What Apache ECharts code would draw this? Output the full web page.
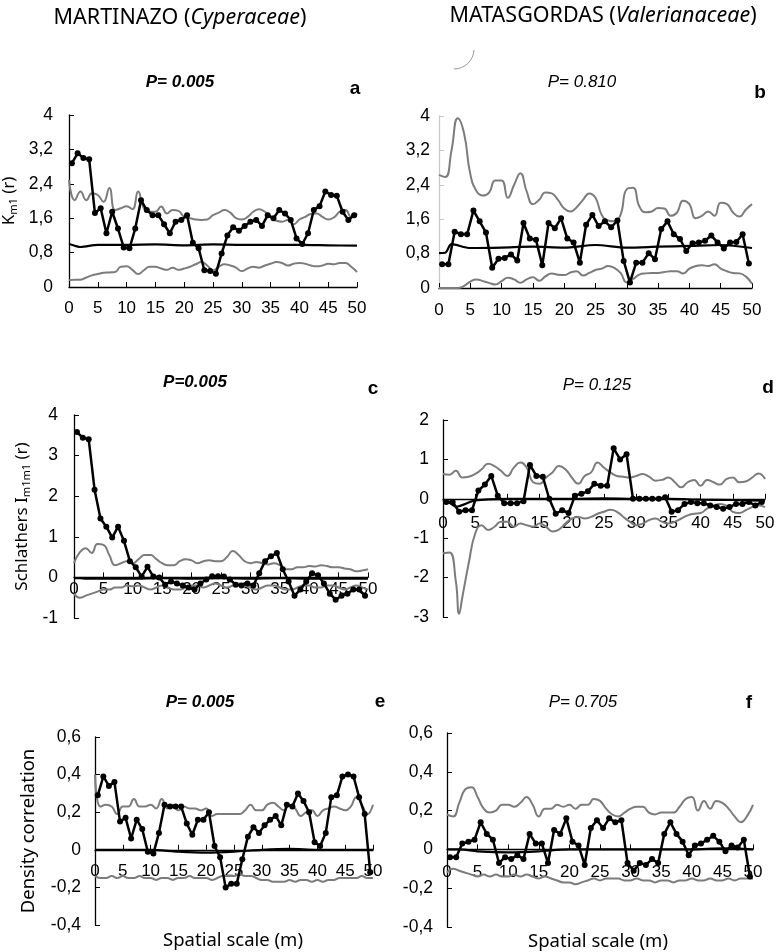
<!DOCTYPE html>
<html>
<head>
<meta charset="utf-8">
<script src="https://cdn.jsdelivr.net/npm/echarts@6/dist/echarts.min.js"></script>
<style>
  html, body { margin: 0; padding: 0; background: #fff; }
  #chart { width: 779px; height: 952px; }
</style>
</head>
<body>
<div id="chart"></div>
<script>
// distance r (m) of the observed points and of the envelope curves
var rDots = [0.5, 1.5, 2.5, 3.5, 4.5, 5.5, 6.5, 7.5, 8.5, 9.5, 10.5, 11.5, 12.5, 13.5, 14.5, 15.5, 16.5, 17.5, 18.5, 19.5,
    20.5, 21.5, 22.5, 23.5, 24.5, 25.5, 26.5, 27.5, 28.5, 29.5, 30.5, 31.5, 32.5, 33.5, 34.5, 35.5, 36.5, 37.5, 38.5, 39.5,
    40.5, 41.5, 42.5, 43.5, 44.5, 45.5, 46.5, 47.5, 48.5, 49.5];
var rGrid = [0, 1, 2, 3, 4, 5, 6, 7, 8, 9, 10, 11, 12, 13, 14, 15, 16, 17, 18, 19, 20, 21, 22, 23, 24, 25,
    26, 27, 28, 29, 30, 31, 32, 33, 34, 35, 36, 37, 38, 39, 40, 41, 42, 43, 44, 45, 46, 47, 48, 49, 50];
var rGridD = [0, 1, 2, 2.5, 3, 4, 5, 6, 7, 8, 9, 10, 11, 12, 13, 14, 15, 16, 17, 18, 19, 20, 21, 22, 23, 24, 25,
    26, 27, 28, 29, 30, 31, 32, 33, 34, 35, 36, 37, 38, 39, 40, 41, 42, 43, 44, 45, 46, 47, 48, 49, 50];
var rMean = [0, 1, 2, 5, 10, 15, 20, 25, 30, 35, 40, 45, 50];

// a - Martinazo, K_m1(r)
var aObs = [2.88, 3.11, 3.0, 2.97, 1.72, 1.83, 1.25, 1.75, 1.36, 0.92, 0.9, 1.36, 2.02, 1.79, 1.67, 1.67, 1.46, 1.25, 1.52, 1.56,
    1.67, 1.03, 0.9, 0.39, 0.37, 0.31, 0.78, 1.2, 1.39, 1.31, 1.42, 1.52, 1.56, 1.42, 1.67, 1.6, 1.79, 1.71, 1.56, 1.13,
    1.0, 1.25, 1.79, 1.88, 2.22, 2.14, 2.12, 1.75, 1.56, 1.67];
var aUpper = [2.49, 2.02, 2.22, 2.02, 2.18, 2.14, 1.98, 2.3, 1.79, 1.83, 1.88, 1.81, 2.22, 1.83, 1.75, 1.75, 1.87, 1.71, 1.79, 1.77,
    1.63, 1.6, 1.57, 1.56, 1.57, 1.67, 1.73, 1.79, 1.73, 1.6, 1.57, 1.63, 1.75, 1.81, 1.75, 1.63, 1.54, 1.52, 1.56, 1.46,
    1.57, 1.63, 1.7, 1.71, 1.63, 1.57, 1.62, 1.75, 1.79, 1.63, 1.71];
var aLower = [0.16, 0.17, 0.17, 0.22, 0.27, 0.3, 0.33, 0.34, 0.35, 0.47, 0.48, 0.4, 0.3, 0.39, 0.47, 0.47, 0.43, 0.4, 0.45, 0.4,
    0.43, 0.47, 0.53, 0.58, 0.5, 0.39, 0.47, 0.53, 0.5, 0.45, 0.37, 0.43, 0.47, 0.45, 0.5, 0.54, 0.58, 0.56, 0.5, 0.54,
    0.56, 0.54, 0.5, 0.48, 0.5, 0.54, 0.53, 0.56, 0.56, 0.47, 0.35];
var aMean = [1.0, 0.96, 0.93, 0.98, 0.98, 0.99, 0.97, 0.99, 0.98, 0.98, 0.98, 0.97, 0.96];

// b - Matasgordas, K_m1(r)
var bObs = [0.55, 0.55, 1.31, 1.25, 1.25, 1.8, 1.55, 1.29, 0.47, 0.68, 0.7, 0.78, 0.64, 1.51, 1.15, 1.12, 0.53, 1.51, 1.39, 1.62,
    1.15, 1.06, 0.59, 1.47, 1.7, 1.44, 1.55, 1.41, 1.57, 0.63, 0.13, 0.59, 0.59, 0.81, 0.67, 1.37, 1.55, 1.25, 1.14, 0.86,
    1.04, 1.06, 1.1, 1.22, 1.06, 0.92, 1.06, 1.07, 1.25, 0.57];
var bUpper = [2.63, 2.58, 3.2, 3.95, 3.6, 2.65, 2.25, 2.15, 2.22, 2.5, 2.5, 2.1, 2.4, 2.67, 2.25, 1.95, 2.05, 2.22, 2.2, 2.05,
    1.85, 1.78, 1.88, 2.05, 2.2, 2.1, 1.7, 1.57, 1.55, 1.7, 2.3, 2.33, 1.9, 1.76, 1.78, 1.86, 1.85, 1.68, 1.75, 2.03,
    1.95, 1.62, 1.68, 1.78, 1.68, 1.98, 1.95, 1.75, 1.66, 1.82, 1.95];
var bLower = [0.0, 0.0, 0.0, 0.0, 0.05, 0.15, 0.2, 0.16, 0.12, 0.08, 0.16, 0.24, 0.2, 0.12, 0.2, 0.25, 0.17, 0.27, 0.34, 0.31,
    0.3, 0.36, 0.39, 0.29, 0.35, 0.42, 0.45, 0.51, 0.47, 0.35, 0.13, 0.21, 0.31, 0.34, 0.35, 0.35, 0.37, 0.39, 0.39, 0.34,
    0.45, 0.51, 0.53, 0.51, 0.55, 0.45, 0.39, 0.35, 0.34, 0.27, 0.1];
var bMean = [0.81, 0.82, 1.02, 0.93, 0.94, 0.96, 0.94, 1.0, 0.94, 0.96, 0.98, 1.0, 0.93];

// c - Martinazo, Schlather's I_m1m1(r)
var cObs = [3.58, 3.44, 3.4, 2.16, 1.45, 1.25, 0.98, 1.25, 0.9, 0.4, 0.25, 0.02, 0.26, 0.02, 0.0, -0.18, -0.1, -0.15, -0.2, -0.25,
    -0.3, -0.15, -0.05, 0.03, 0.03, 0.02, -0.05, -0.18, -0.2, -0.15, -0.2, 0.1, 0.4, 0.52, 0.6, 0.2, -0.1, -0.45, -0.3, -0.1,
    0.1, 0.05, -0.15, -0.4, -0.55, -0.45, -0.4, -0.3, -0.3, -0.45];
var cUpper = [0.35, 0.62, 0.72, 0.6, 0.82, 0.8, 0.55, 0.3, 0.35, 0.4, 0.35, 0.45, 0.55, 0.55, 0.45, 0.35, 0.3, 0.3, 0.4, 0.45,
    0.42, 0.35, 0.4, 0.42, 0.4, 0.4, 0.5, 0.65, 0.55, 0.4, 0.35, 0.38, 0.35, 0.32, 0.35, 0.3, 0.2, 0.2, 0.25, 0.25,
    0.28, 0.27, 0.3, 0.28, 0.25, 0.25, 0.22, 0.2, 0.15, 0.17, 0.2];
var cLower = [-0.4, -0.5, -0.45, -0.4, -0.35, -0.3, -0.3, -0.25, -0.25, -0.2, -0.22, -0.2, -0.25, -0.3, -0.25, -0.2, -0.25, -0.3, -0.3, -0.25,
    -0.2, -0.2, -0.25, -0.2, -0.15, -0.2, -0.25, -0.2, -0.15, -0.2, -0.25, -0.3, -0.25, -0.2, -0.2, -0.25, -0.3, -0.3, -0.25, -0.2,
    -0.2, -0.25, -0.25, -0.2, -0.2, -0.25, -0.3, -0.25, -0.2, -0.25, -0.3];
var cMean = [-0.02, -0.02, -0.03, -0.03, -0.03, -0.02, -0.03, -0.02, -0.03, -0.02, -0.03, -0.03, -0.03];

// d - Matasgordas, Schlather's I_m1m1(r)
var dObs = [-0.08, -0.08, -0.33, -0.29, -0.29, 0.21, 0.36, 0.58, 0.08, -0.11, -0.11, -0.11, -0.06, 0.86, 0.58, 0.56, 0.0, -0.38, -0.29, -0.36,
    0.08, 0.13, 0.19, 0.38, 0.33, 0.33, 1.28, 1.0, 1.13, 0.0, 0.0, 0.0, 0.0, 0.0, 0.04, -0.33, -0.29, -0.13, -0.08, -0.11,
    -0.11, -0.17, -0.21, -0.25, -0.21, -0.13, -0.13, -0.08, -0.17, -0.08];
var dUpper = [0.63, 0.61, 0.71, 0.54, 0.56, 0.63, 0.75, 0.89, 0.83, 0.71, 0.58, 0.79, 0.92, 0.79, 0.42, 0.38, 0.54, 0.67, 0.83, 0.75,
    0.54, 0.38, 0.58, 0.67, 0.92, 0.79, 0.67, 0.58, 0.56, 0.54, 0.58, 0.63, 0.56, 0.46, 0.48, 0.54, 0.42, 0.29, 0.42, 0.48,
    0.33, 0.48, 0.42, 0.36, 0.5, 0.54, 0.42, 0.44, 0.54, 0.64, 0.5];
var dLower = [-1.38, -1.36, -2.1, -2.92, -2.5, -1.63, -0.88, -0.67, -0.79, -0.71, -0.58, -0.58, -0.71, -0.63, -0.67, -0.71, -0.63, -0.71, -0.83, -0.78,
    -0.63, -0.5, -0.46, -0.5, -0.46, -0.38, -0.33, -0.28, -0.33, -0.46, -0.58, -0.67, -0.63, -0.54, -0.5, -0.58, -0.63, -0.58, -0.5, -0.42,
    -0.38, -0.36, -0.25, -0.17, -0.13, -0.17, -0.33, -0.36, -0.29, -0.21, -0.17, -0.21];
var dMean = [-0.04, -0.1, -0.2, -0.04, 0.0, 0.0, 0.0, 0.01, 0.0, 0.0, -0.02, -0.03, -0.05];

// e - Martinazo, density correlation
var eObs = [0.29, 0.39, 0.34, 0.36, 0.15, 0.17, 0.06, 0.16, 0.11, -0.01, -0.02, 0.09, 0.24, 0.23, 0.23, 0.23, 0.14, 0.08, 0.16, 0.16,
    0.2, 0.02, -0.04, -0.2, -0.18, -0.18, -0.05, 0.07, 0.12, 0.09, 0.13, 0.16, 0.18, 0.13, 0.24, 0.23, 0.3, 0.26, 0.2, 0.04,
    0.02, 0.09, 0.28, 0.29, 0.39, 0.4, 0.39, 0.28, 0.19, -0.12];
var eUpper = [0.4, 0.23, 0.24, 0.23, 0.19, 0.23, 0.23, 0.27, 0.23, 0.23, 0.24, 0.22, 0.27, 0.22, 0.24, 0.21, 0.23, 0.22, 0.22, 0.21,
    0.22, 0.18, 0.19, 0.19, 0.19, 0.19, 0.19, 0.21, 0.24, 0.21, 0.21, 0.24, 0.25, 0.23, 0.21, 0.24, 0.22, 0.18, 0.2, 0.21,
    0.18, 0.21, 0.22, 0.23, 0.22, 0.21, 0.23, 0.28, 0.24, 0.19, 0.24];
var eLower = [-0.14, -0.15, -0.15, -0.14, -0.15, -0.14, -0.15, -0.15, -0.14, -0.15, -0.15, -0.16, -0.15, -0.15, -0.16, -0.15, -0.15, -0.14, -0.15, -0.15,
    -0.15, -0.16, -0.15, -0.14, -0.14, -0.14, -0.13, -0.14, -0.14, -0.15, -0.16, -0.16, -0.17, -0.17, -0.17, -0.16, -0.17, -0.16, -0.16, -0.17,
    -0.16, -0.17, -0.16, -0.16, -0.15, -0.15, -0.15, -0.15, -0.14, -0.15, -0.15];
var eMean = [0.0, 0.0, 0.0, 0.0, 0.0, -0.01, -0.015, -0.01, 0.0, 0.005, 0.0, 0.0, 0.0];

// f - Matasgordas, density correlation
var fObs = [-0.04, -0.04, 0.03, 0.04, 0.05, 0.14, 0.08, 0.05, -0.07, -0.04, -0.05, -0.03, -0.05, 0.08, 0.03, 0.03, -0.07, 0.1, 0.08, 0.16,
    0.04, 0.02, -0.08, 0.11, 0.15, 0.11, 0.16, 0.14, 0.15, -0.07, -0.11, -0.07, -0.08, -0.05, -0.07, 0.08, 0.14, 0.08, 0.04, -0.03,
    0.02, 0.03, 0.05, 0.07, 0.04, -0.01, 0.02, 0.01, 0.05, -0.14];
var fUpper = [0.18, 0.17, 0.24, 0.31, 0.32, 0.27, 0.21, 0.19, 0.2, 0.23, 0.23, 0.22, 0.24, 0.27, 0.23, 0.17, 0.21, 0.21, 0.23, 0.22,
    0.23, 0.21, 0.23, 0.23, 0.26, 0.25, 0.21, 0.18, 0.17, 0.19, 0.21, 0.22, 0.22, 0.19, 0.18, 0.19, 0.19, 0.19, 0.22, 0.26,
    0.27, 0.2, 0.25, 0.21, 0.25, 0.24, 0.21, 0.17, 0.14, 0.17, 0.23];
var fLower = [-0.12, -0.1, -0.11, -0.12, -0.13, -0.14, -0.13, -0.14, -0.13, -0.14, -0.14, -0.13, -0.14, -0.13, -0.14, -0.15, -0.14, -0.15, -0.16, -0.17,
    -0.17, -0.18, -0.17, -0.16, -0.15, -0.16, -0.15, -0.15, -0.15, -0.16, -0.16, -0.15, -0.16, -0.16, -0.17, -0.16, -0.16, -0.17, -0.16, -0.16,
    -0.15, -0.16, -0.16, -0.15, -0.16, -0.16, -0.15, -0.16, -0.15, -0.15, -0.15];
var fMean = [0.0, 0.0, 0.0, -0.01, -0.015, -0.01, 0.0, 0.0, 0.0, 0.0, 0.0, 0.005, 0.0];

var xTicks = [0, 50, 5];   // min, max, interval
var yRanges = [[0, 4, 0.8], [0, 4, 0.8], [-1, 4, 1], [-3, 2, 1], [-0.4, 0.6, 0.2], [-0.4, 0.6, 0.2]];

var GRAY = '#7c7c7c';
var LABEL_FONT = 'Liberation Sans';
var TEXT_FONT = 'Noto Sans';

function zip(xs, ys) {
    return ys.map(function (y, i) { return [xs[i], y]; });
}

function comma(v) {
    return String(+v.toFixed(2)).replace('.', ',');
}

var grids = [
    {left: 68, top: 115, width: 289, height: 172},
    {left: 439, top: 116, width: 313, height: 172},
    {left: 74, top: 415, width: 294, height: 203},
    {left: 443, top: 420, width: 322, height: 197},
    {left: 95, top: 737, width: 278, height: 188},
    {left: 447, top: 733, width: 306, height: 194}
];
var yLabelGap = [16, 9, 16, 14, 14, 14];
// x labels sit under the zero line, measured from the grid bottom
var xLabelGap = [13, 14, -37, -102, -62, -63];

var xAxes = grids.map(function (g, i) {
    return {
        type: 'value', gridIndex: i, min: xTicks[0], max: xTicks[1], interval: xTicks[2],
        axisLine: {onZero: true, lineStyle: {color: '#000', width: 1.3}},
        axisTick: {inside: true, length: 5, lineStyle: {color: '#000'}},
        axisLabel: {color: '#000', fontSize: 17, fontFamily: LABEL_FONT, margin: xLabelGap[i]},
        splitLine: {show: false}
    };
});

var yNames = [
    {name: '{n|K}{s|m1}{n| (r)}', gap: 50},
    null,
    {name: '{n|Schlathers I}{s|m1m1}{n| (r)}', gap: 42},
    null,
    {name: '{d|Density correlation}', gap: 57},
    null
];

var yAxes = grids.map(function (g, i) {
    var ax = {
        type: 'value', gridIndex: i,
        min: yRanges[i][0], max: yRanges[i][1], interval: yRanges[i][2],
        axisLine: {show: true, lineStyle: {color: i === 1 ? '#c8c8c8' : '#000', width: 1.3}},
        axisTick: {show: true, inside: true, length: 5, lineStyle: {color: i === 1 ? '#c8c8c8' : '#000'}},
        axisLabel: {color: '#000', fontSize: 17.5, fontFamily: LABEL_FONT, margin: yLabelGap[i], formatter: comma},
        splitLine: {show: false}
    };
    if (yNames[i]) {
        ax.name = yNames[i].name;
        ax.nameLocation = 'middle';
        ax.nameRotate = 90;
        ax.nameGap = yNames[i].gap;
        ax.nameTextStyle = {
            rich: {
                n: {fontSize: 17, fontFamily: TEXT_FONT, color: '#000'},
                d: {fontSize: 18.5, fontFamily: TEXT_FONT, color: '#000'},
                s: {fontSize: 11, fontFamily: TEXT_FONT, color: '#000', verticalAlign: 'bottom', padding: [8, 0, 0, 0]}
            }
        };
    }
    return ax;
});

var panels = [
    [aObs, aUpper, aLower, aMean, rGrid],
    [bObs, bUpper, bLower, bMean, rGrid],
    [cObs, cUpper, cLower, cMean, rGrid],
    [dObs, dUpper, dLower, dMean, rGridD],
    [eObs, eUpper, eLower, eMean, rGrid],
    [fObs, fUpper, fLower, fMean, rGrid]
];

var series = [];
panels.forEach(function (p, i) {
    var env = {type: 'line', xAxisIndex: i, yAxisIndex: i, smooth: 0.5, showSymbol: false, z: 2,
        lineStyle: {color: GRAY, width: 2}};
    series.push(Object.assign({}, env, {data: zip(rGrid, p[1])}));
    series.push(Object.assign({}, env, {data: zip(p[4], p[2])}));
    series.push({type: 'line', xAxisIndex: i, yAxisIndex: i, smooth: 0.3, showSymbol: false, z: 3,
        data: zip(rMean, p[3]), lineStyle: {color: '#000', width: 2.2}});
    series.push({type: 'line', xAxisIndex: i, yAxisIndex: i, z: 5, data: zip(rDots, p[0]),
        symbol: 'circle', symbolSize: 6, itemStyle: {color: '#000'},
        lineStyle: {color: '#000', width: 2.5}});
});

function label(x, y, text, font, align) {
    return {type: 'text', x: x, y: y, style: {text: text, font: font, fill: '#000',
        textAlign: align || 'center', textVerticalAlign: 'middle'}};
}

function header(x, y, name, family) {
    return {type: 'text', x: x, y: y, style: {
        text: '{n|' + name + ' (}{i|' + family + '}{n|)}',
        textAlign: 'center', textVerticalAlign: 'middle',
        rich: {
            n: {fontSize: 21.5, fontFamily: TEXT_FONT, color: '#000'},
            i: {fontSize: 21.5, fontFamily: TEXT_FONT, fontStyle: 'italic', color: '#000'}
        }
    }};
}

var BOLD_P = 'italic bold 17px "Liberation Sans"';
var PLAIN_P = 'italic 17px "Liberation Sans"';
var LETTER = 'bold 19px "Liberation Sans"';
var AXIS_TITLE = '18.5px "Noto Sans"';

var graphics = [
    header(180, 18, 'MARTINAZO', 'Cyperaceae'),
    header(603, 16, 'MATASGORDAS', 'Valerianaceae'),
    label(180, 82, 'P= 0.005', BOLD_P),
    label(582, 82, 'P= 0.810', PLAIN_P),
    label(195, 382, 'P=0.005', BOLD_P),
    label(597, 385, 'P= 0.125', PLAIN_P),
    label(200, 702, 'P= 0.005', BOLD_P),
    label(583, 702, 'P= 0.705', PLAIN_P),
    label(355, 89, 'a', LETTER),
    label(760, 93, 'b', LETTER),
    label(373, 389, 'c', LETTER),
    label(768, 388, 'd', LETTER),
    label(380, 702, 'e', LETTER),
    label(749, 703, 'f', LETTER),
    label(233, 941, 'Spatial scale (m)', AXIS_TITLE),
    label(598, 942, 'Spatial scale (m)', AXIS_TITLE),
    {type: 'arc', shape: {cx: 454, cy: 49, r: 20, startAngle: 0.05, endAngle: Math.PI / 2},
        style: {stroke: '#999', lineWidth: 1, fill: null}}
];

var myChart = echarts.init(document.getElementById('chart'));
myChart.setOption({
    backgroundColor: '#fff',
    animation: false,
    grid: grids,
    xAxis: xAxes,
    yAxis: yAxes,
    series: series,
    graphic: graphics
});
</script>
</body>
</html>
